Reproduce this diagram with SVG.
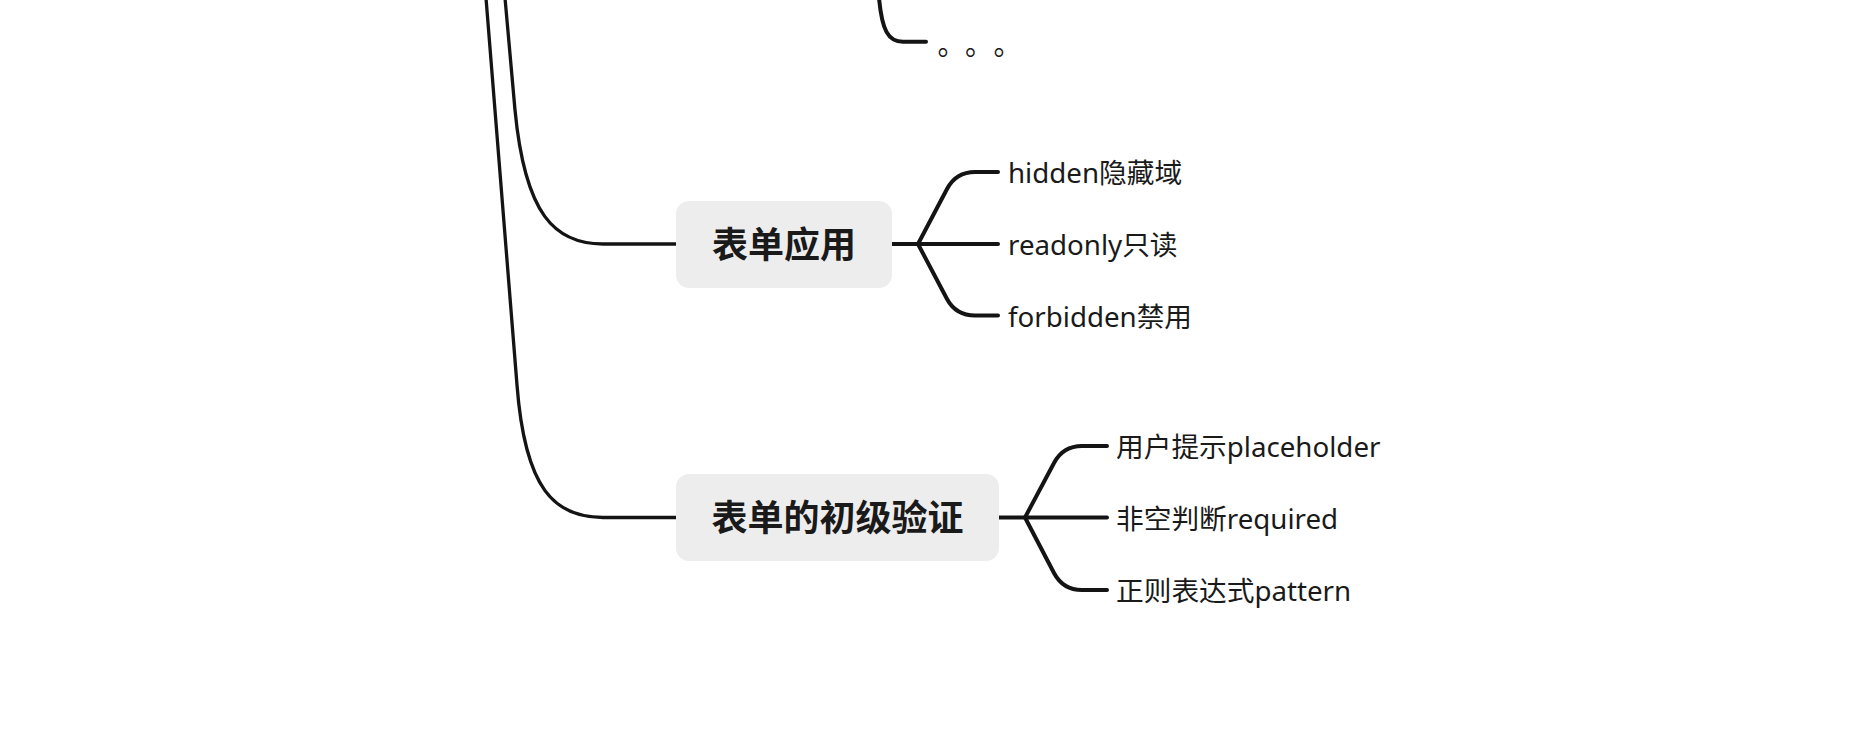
<svg xmlns="http://www.w3.org/2000/svg" width="1874" height="748" viewBox="0 0 1874 748">
<style>
.c{fill:none;stroke:#141414;stroke-width:4;stroke-linecap:round;stroke-linejoin:round}
.box{fill:#ededed}
.main{font-family:"Noto Sans","Noto Sans CJK SC",sans-serif;font-size:36px;font-weight:bold;fill:#1a1a1a;text-anchor:middle;dominant-baseline:central}
.sub{font-family:"Noto Sans","Noto Sans CJK SC",sans-serif;font-size:27.7px;fill:#1a1a1a;dominant-baseline:central}
.dots{font-family:"Noto Sans CJK SC",sans-serif;font-size:28px;fill:#1a1a1a;dominant-baseline:central}
</style>
<rect width="1874" height="748" fill="#fff"/>
<g id="connectors">
<path class="c" style="stroke-width:3.3" d="M486,-2 L517,385 C525,490 555,517.5 603,517.5 L676,517.5"/>
<path class="c" style="stroke-width:3.3" d="M505,-2 L515,110 C525,215 555,244 603,244 L676,244"/>
<path class="c" d="M879,-2 C882,30 888,41.8 903,41.8 L926,41.8"/>
<path class="c" d="M892,244 L998,244"/>
<path class="c" d="M918,244 L947,189 Q956,172 975,172 L998,172"/>
<path class="c" d="M918,244 L947,299 Q956,315.5 975,315.5 L998,315.5"/>
<path class="c" d="M999,517.5 L1107,517.5"/>
<path class="c" d="M1025,517.5 L1054,463 Q1063,446 1082,446 L1107,446"/>
<path class="c" d="M1025,517.5 L1054,573 Q1063,590 1082,590 L1107,590"/>
</g>
<g id="node-more"><text class="dots" x="937.5" y="42.5">。</text><text class="dots" x="965" y="42.5">。</text><text class="dots" x="993.5" y="42.5">。</text></g>
<g id="node-biaodan"><rect class="box" x="676" y="201" width="216" height="87" rx="13"/><text class="main" x="784" y="244">表单应用</text></g>
<g id="node-hidden"><text class="sub" x="1008" y="172">hidden隐藏域</text></g>
<g id="node-readonly"><text class="sub" x="1008" y="244">readonly只读</text></g>
<g id="node-forbidden"><text class="sub" x="1008" y="315.5">forbidden禁用</text></g>
<g id="node-yanzheng"><rect class="box" x="676" y="474" width="323" height="87" rx="13"/><text class="main" x="837.5" y="517.5">表单的初级验证</text></g>
<g id="node-placeholder"><text class="sub" x="1116" y="446">用户提示placeholder</text></g>
<g id="node-required"><text class="sub" x="1116" y="517.5">非空判断required</text></g>
<g id="node-pattern"><text class="sub" x="1116" y="590">正则表达式pattern</text></g>
</svg>
